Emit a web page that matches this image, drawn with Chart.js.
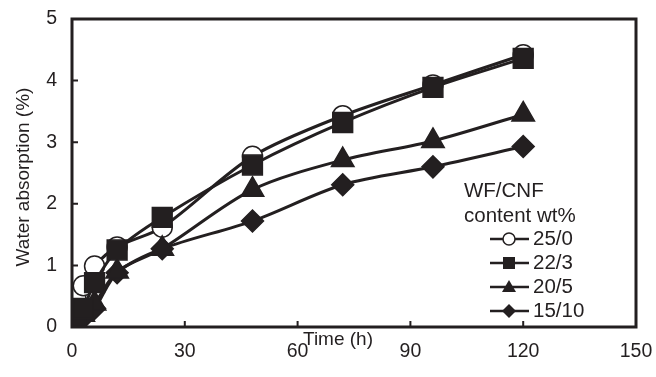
<!DOCTYPE html>
<html>
<head>
<meta charset="utf-8">
<script src="https://cdn.jsdelivr.net/npm/chart.js@4/dist/chart.umd.min.js"></script>
<style>
  html, body { margin: 0; padding: 0; background: #fff; }
  #wrap { width: 656px; height: 377px; }
</style>
</head>
<body>
<div id="wrap"><canvas id="chart" width="656" height="377"></canvas></div>
<script>
// time in hours
const times = [0, 1, 3, 6, 12, 24, 48, 72, 96, 120];

// water absorption (%) per WF/CNF content
const wf25cnf0  = [0, 0.48, 0.67, 0.99, 1.30, 1.62, 2.77, 3.43, 3.93, 4.42];
const wf22cnf3  = [0, 0.15, 0.30, 0.72, 1.25, 1.78, 2.63, 3.32, 3.89, 4.36];
const wf20cnf5  = [0, 0.08, 0.20, 0.38, 0.90, 1.27, 2.23, 2.71, 3.02, 3.45];
const wf15cnf10 = [0, 0.05, 0.15, 0.30, 0.88, 1.27, 1.72, 2.31, 2.60, 2.93];

const seriesLabels = ['25/0', '22/3', '20/5', '15/10'];
const xTicks = [0, 30, 60, 90, 120, 150];
const yTicks = [0, 1, 2, 3, 4, 5];

const FONT = 'Liberation Sans, Arial, sans-serif';

function pts(vals){
    return vals.map((v, i) => ({x: times[i], y: v}));
}

function series(label, vals, style, radius, fill, order){
    return {
        label: label,
        data: pts(vals),
        borderColor: '#231f20',
        borderWidth: 3,
        pointStyle: style,
        pointRadius: radius,
        pointBackgroundColor: fill,
        pointBorderColor: '#231f20',
        pointBorderWidth: 1.5,
        tension: 0.3,
        fill: false,
        order: order
    };
}

// inward ticks, box frame, axis titles and the legend block
const decor = {
    id: 'decor',
    afterDraw(c){
        const ctx = c.ctx, a = c.chartArea;
        const xs = c.scales.x, ys = c.scales.y;
        ctx.save();
        ctx.strokeStyle = '#231f20';
        ctx.lineWidth = 3;
        ctx.strokeRect(a.left, a.top, a.right - a.left, a.bottom - a.top);
        ctx.lineWidth = 2;
        ctx.beginPath();
        xTicks.forEach(t => {
            const px = xs.getPixelForValue(t);
            ctx.moveTo(px, a.bottom); ctx.lineTo(px, a.bottom - 6);
        });
        yTicks.forEach(t => {
            const py = ys.getPixelForValue(t);
            ctx.moveTo(a.left, py); ctx.lineTo(a.left + 6, py);
        });
        ctx.stroke();

        ctx.fillStyle = '#231f20';
        ctx.font = '19px ' + FONT;
        ctx.textAlign = 'center';
        ctx.textBaseline = 'middle';
        ctx.fillText('Time (h)', 338, 340);
        ctx.save();
        ctx.translate(24, 177);
        ctx.rotate(-Math.PI / 2);
        ctx.fillText('Water absorption (%)', 0, 0);
        ctx.restore();

        // legend
        ctx.font = '20.5px ' + FONT;
        ctx.textAlign = 'left';
        ctx.fillText('WF/CNF', 464, 191);
        ctx.fillText('content wt%', 464, 216);
        const rows = [239, 263, 287, 311];
        c.data.datasets.forEach((ds, i) => {
            const y = rows[i];
            ctx.lineWidth = 2.5;
            ctx.beginPath();
            ctx.moveTo(490, y); ctx.lineTo(529, y);
            ctx.stroke();
            ctx.beginPath();
            const x = 509;
            if(ds.pointStyle === 'circle'){
                ctx.arc(x, y, 6, 0, Math.PI * 2);
                ctx.fillStyle = '#fff'; ctx.fill();
                ctx.lineWidth = 1.5; ctx.stroke();
            } else if(ds.pointStyle === 'rect'){
                ctx.rect(x - 6, y - 6, 12, 12);
                ctx.fillStyle = '#231f20'; ctx.fill();
            } else if(ds.pointStyle === 'triangle'){
                ctx.moveTo(x, y - 7); ctx.lineTo(x + 7, y + 5); ctx.lineTo(x - 7, y + 5);
                ctx.closePath();
                ctx.fillStyle = '#231f20'; ctx.fill();
            } else {
                ctx.moveTo(x, y - 7); ctx.lineTo(x + 7, y); ctx.lineTo(x, y + 7); ctx.lineTo(x - 7, y);
                ctx.closePath();
                ctx.fillStyle = '#231f20'; ctx.fill();
            }
            ctx.fillStyle = '#231f20';
            ctx.fillText(ds.label, 533, y);
        });
        ctx.restore();
    }
};

const ctx = document.getElementById('chart').getContext('2d');
const chart = new Chart(ctx, {
    type: 'line',
    data: {
        datasets: [
            series(seriesLabels[0], wf25cnf0,  'circle',   10, '#ffffff', 4),
            series(seriesLabels[1], wf22cnf3,  'rect',     14, '#231f20', 1),
            series(seriesLabels[2], wf20cnf5,  'triangle', 13, '#231f20', 2),
            series(seriesLabels[3], wf15cnf10, 'rectRot',  11, '#231f20', 3)
        ]
    },
    options: {
        responsive: false,
        animation: false,
        layout: { padding: { top: 19, right: 20, left: 0, bottom: 0 } },
        plugins: {
            legend: { display: false },
            tooltip: { enabled: false }
        },
        scales: {
            x: {
                type: 'linear',
                min: 0, max: 150,
                afterFit: s => { s.height = 50; s.paddingLeft = 0; s.paddingRight = 0; },
                afterBuildTicks: s => { s.ticks = xTicks.map(v => ({value: v})); },
                grid: { display: false, drawTicks: false },
                border: { display: false },
                ticks: { color: '#231f20', font: { family: FONT, size: 19.5 }, padding: 13, maxRotation: 0 }
            },
            y: {
                min: 0, max: 5,
                afterFit: s => { s.width = 72; s.paddingTop = 0; s.paddingBottom = 0; },
                afterBuildTicks: s => { s.ticks = yTicks.map(v => ({value: v})); },
                grid: { display: false, drawTicks: false },
                border: { display: false },
                ticks: { color: '#231f20', font: { family: FONT, size: 19.5 }, padding: 15 }
            }
        }
    },
    plugins: [decor]
});
</script>
</body>
</html>
